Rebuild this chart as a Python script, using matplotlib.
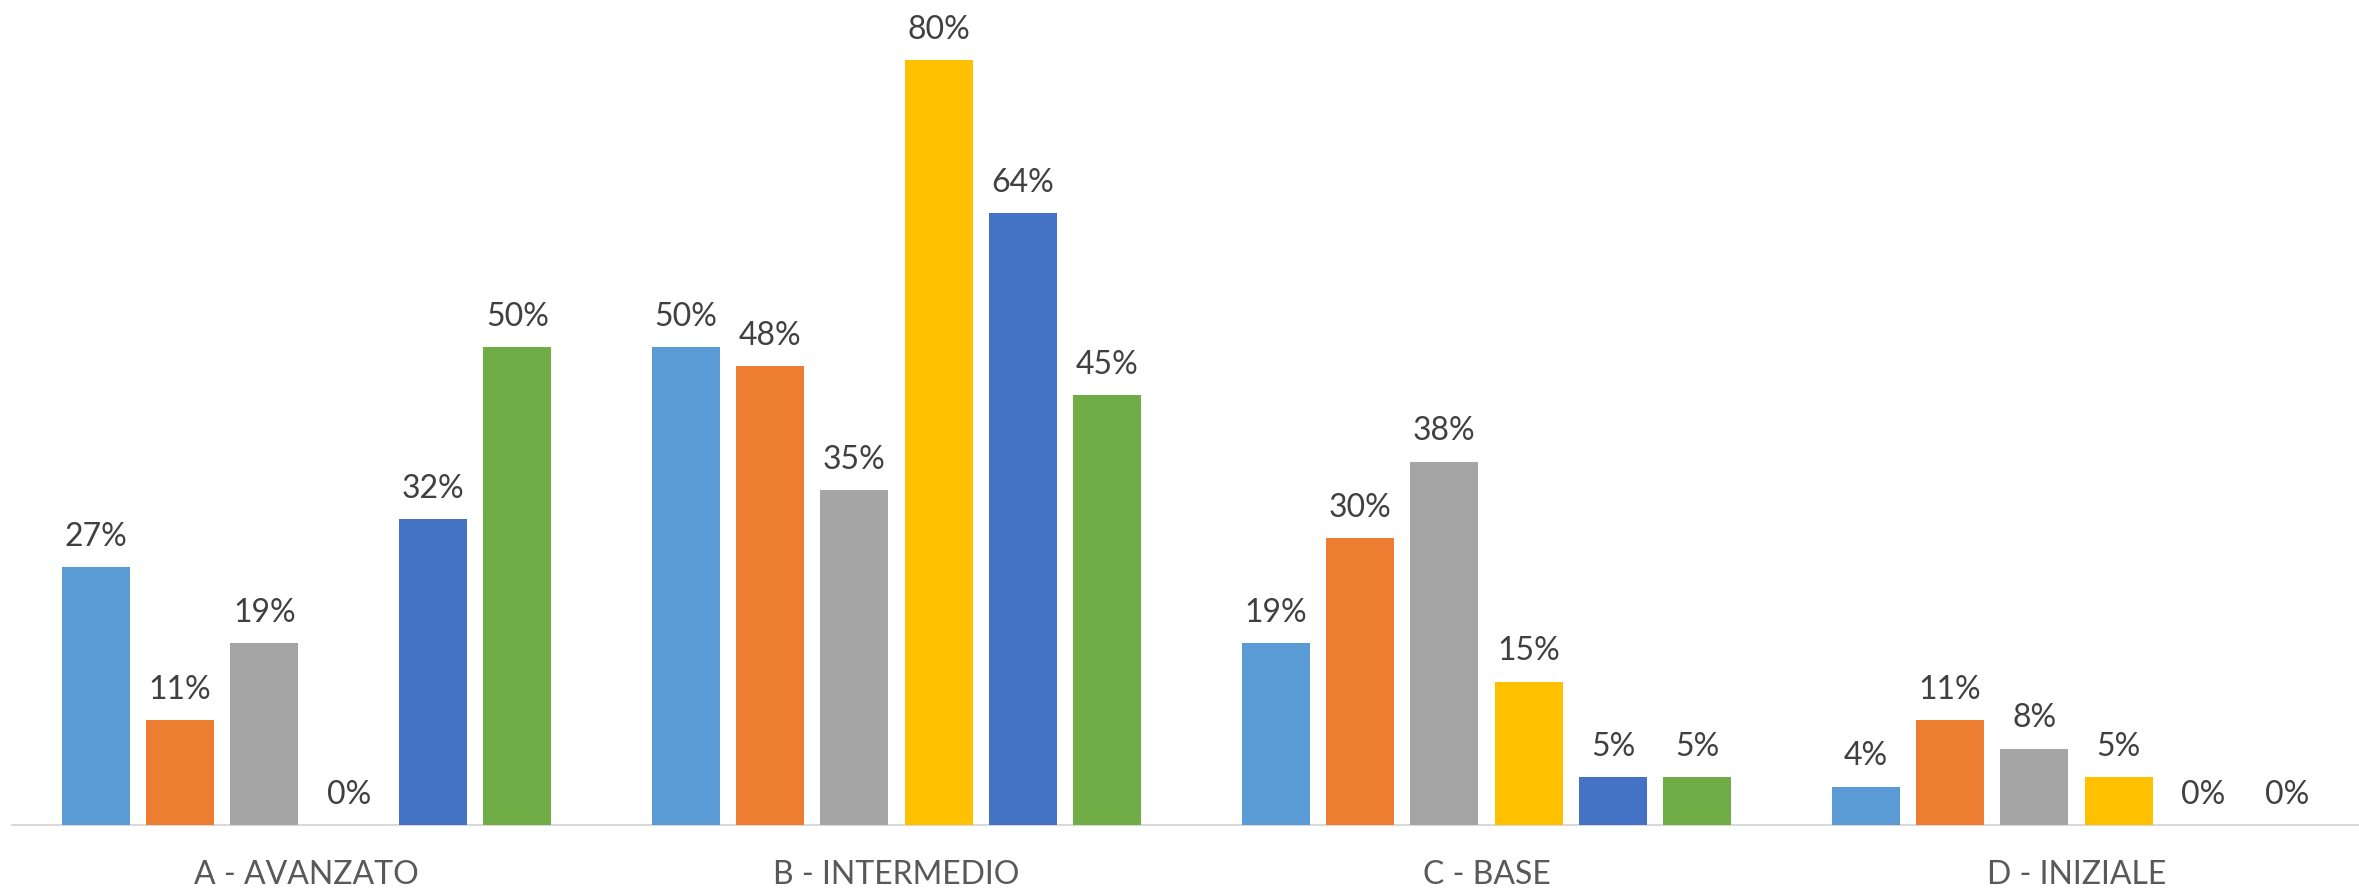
import numpy as np
import matplotlib.pyplot as plt

categories = ['A - AVANZATO', 'B - INTERMEDIO', 'C - BASE', 'D - INIZIALE']
series1 = [27, 50, 19, 4]
series2 = [11, 48, 30, 11]
series3 = [19, 35, 38, 8]
series4 = [0, 80, 15, 5]
series5 = [32, 64, 5, 0]
series6 = [50, 45, 5, 0]

colors = ['#5B9BD5', '#ED7D31', '#A5A5A5', '#FFC000', '#4472C4', '#70AD47']

plt.rcParams['font.family'] = ['Lato', 'DejaVu Sans']

fig = plt.figure(figsize=(23.59, 8.89), dpi=100)
# plot area runs a little past the right edge, as in the source image
ax = fig.add_axes([11.5 / 2359, 64 / 889, 2360 / 2359, 825 / 889])

x = np.arange(len(categories))
width = 0.1153
step = 0.1429
all_series = [series1, series2, series3, series4, series5, series6]
for i, vals in enumerate(all_series):
    bars = ax.bar(x + (i - 2.5) * step, vals, width, color=colors[i], zorder=2)
    ax.bar_label(bars, labels=['{}%'.format(v) for v in vals], padding=11,
                 fontsize=23, color='#404040')

ax.set_xlim(-0.5, 3.5)
ax.set_ylim(0, 86.3)
ax.set_xticks(x)
ax.set_xticklabels(categories, fontsize=23, color='#595959')
ax.tick_params(axis='x', length=0, pad=25)
ax.set_yticks([])
for s in ['top', 'right', 'left']:
    ax.spines[s].set_visible(False)
ax.spines['bottom'].set_color('#D9D9D9')
ax.spines['bottom'].set_linewidth(1.5)
ax.spines['bottom'].set_zorder(1)

fig.savefig('out.png', dpi=100)
